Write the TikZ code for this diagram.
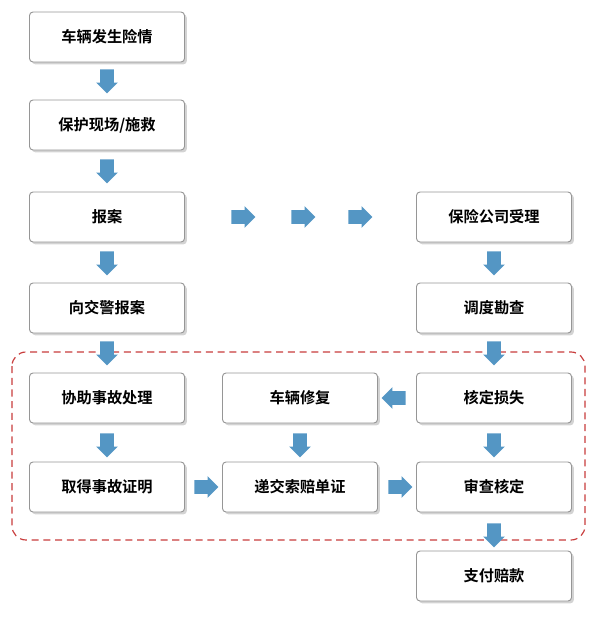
\documentclass[tikz,border=0pt]{standalone}
\usepackage{fontspec}
\newfontfamily\cjk{Noto Sans CJK SC Bold}
\usetikzlibrary{shapes.arrows, shadows}
\definecolor{arrowblue}{RGB}{84,150,196}
\definecolor{boxline}{RGB}{150,150,150}
\definecolor{dashred}{RGB}{200,60,60}
\tikzset{
  box/.style={draw=boxline, line width=0.8pt, rounded corners=3pt, fill=white,
    minimum width=4.65cm, minimum height=1.5cm, font=\cjk\fontsize{13}{15}\selectfont,
    drop shadow={shadow xshift=2pt, shadow yshift=-2pt, opacity=0.35}},
  barrow/.style={single arrow, fill=arrowblue, draw=none, minimum height=0.72cm,
    single arrow head extend=0.12cm, inner sep=0.2cm}
}
\begin{document}
\begin{tikzpicture}[x=0.03cm, y=-0.03cm]
  \useasboundingbox (0,0) rectangle (600,621);
  \draw[dashred, dash pattern=on 6pt off 4pt, line width=1pt, rounded corners=12pt] (12,352) rectangle (585,540);
  % left column
  \node[box] (risk) at (107,37) {车辆发生险情};
  \node[box] (scene) at (107,125) {保护现场/施救};
  \node[box] (report) at (107,217) {报案};
  \node[box] (police) at (107,308) {向交警报案};
  \node[box] (assist) at (107,398) {协助事故处理};
  \node[box] (proof) at (107,487) {取得事故证明};
  % middle column
  \node[box] (repair) at (300,398) {车辆修复};
  \node[box] (submit) at (300,487) {递交索赔单证};
  % right column
  \node[box] (accept) at (494,217) {保险公司受理};
  \node[box] (survey) at (494,308) {调度勘查};
  \node[box] (loss) at (494,398) {核定损失};
  \node[box] (check) at (494,487) {审查核定};
  \node[box] (pay) at (494,576) {支付赔款};
  % arrows
  \foreach \n/\x/\y/\r in {a1/107/78/-90, a2/107/168/-90, a3/107/260/-90, a4/107/350/-90, a5/107/442/-90,
      b1/494/260/-90, b2/494/350/-90, b3/494/442/-90, b4/494/532/-90, c1/300/442/-90,
      h1/240/217/0, h2/300/217/0, h3/357/217/0, h4/397/398/180, h5/203/487/0, h6/397/487/0}
    \node[barrow, rotate=\r] (\n) at (\x,\y) {};
\end{tikzpicture}
\end{document}
